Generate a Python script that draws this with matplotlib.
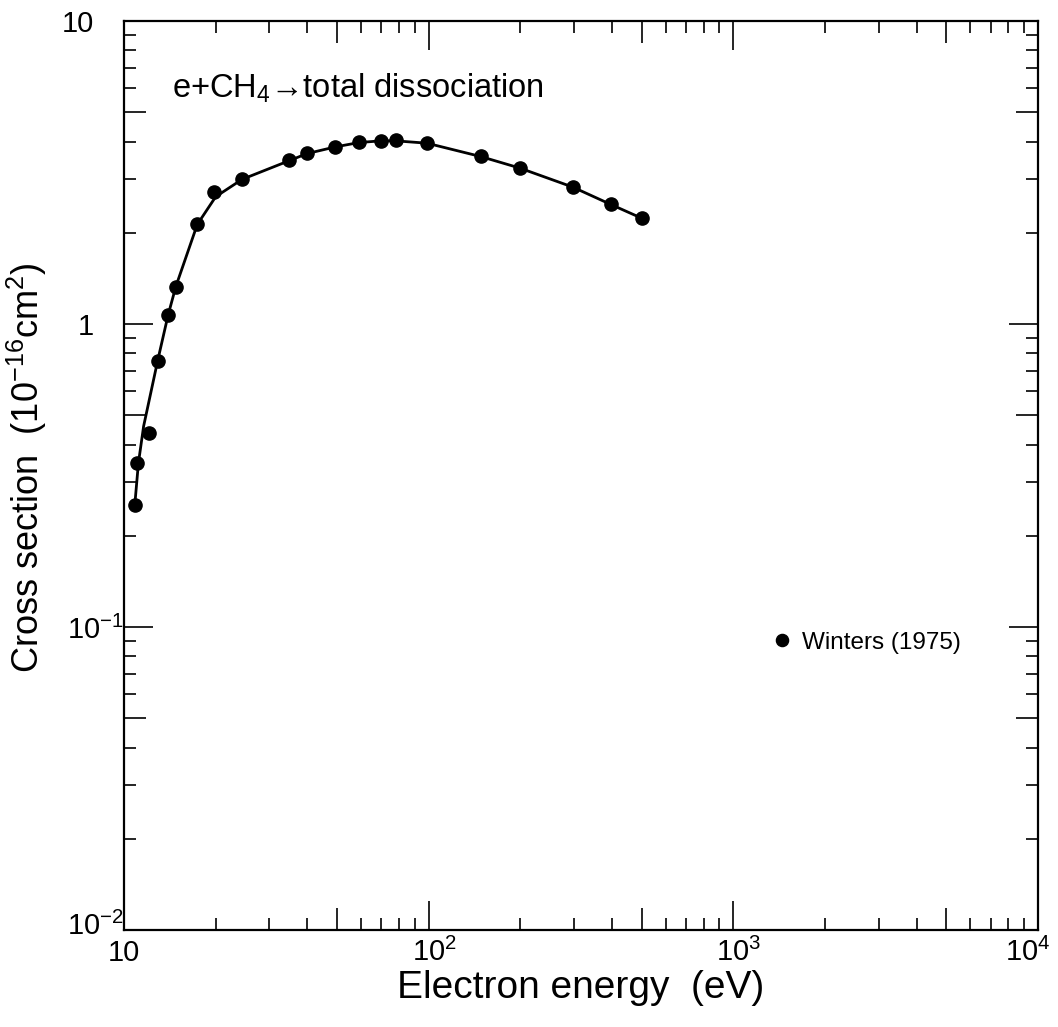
import matplotlib
matplotlib.use("Agg")
import matplotlib.pyplot as plt
import numpy as np
from matplotlib.ticker import FixedLocator, NullFormatter

# Winters (1975), e + CH4 -> total dissociation
energy = [10.85, 11.0, 12.1, 12.9, 13.95, 14.8, 17.4, 19.8, 24.4, 34.9, 39.9,
          49.4, 59.1, 69.6, 78.1, 98.7, 148, 199, 297, 396, 502]
sigma = [0.253, 0.347, 0.438, 0.757, 1.068, 1.328, 2.13, 2.73, 3.00, 3.48, 3.67,
         3.84, 3.99, 4.03, 4.04, 3.95, 3.57, 3.27, 2.83, 2.48, 2.23]

# recommended curve
curve_e = [10.85, 11.15, 11.6, 12.9, 13.95, 14.8, 17.4, 20.0, 24.4, 34.9, 39.9,
           49.4, 59.1, 69.6, 78.1, 98.7, 148, 199, 297, 396, 502]
curve_s = [0.253, 0.347, 0.46, 0.757, 1.068, 1.33, 2.13, 2.63, 3.00, 3.46, 3.65,
           3.84, 3.97, 4.02, 4.02, 3.95, 3.57, 3.27, 2.83, 2.48, 2.23]

xticks = [10, 1e2, 1e3, 1e4]
xticklabels = ["10", "10$^2$", "10$^3$", "10$^4$"]
yticks = [1e-2, 1e-1, 1, 10]
yticklabels = ["10$^{-2}$", "10$^{-1}$", "1", "10"]

plt.rcParams['font.family'] = ['Liberation Sans', 'DejaVu Sans']
plt.rcParams['mathtext.fontset'] = 'custom'
plt.rcParams['mathtext.rm'] = 'Liberation Sans'
plt.rcParams['mathtext.it'] = 'Liberation Sans'

tickfont = ['Liberation Sans Narrow', 'Liberation Sans']

fig = plt.figure(figsize=(10.58, 10.27), dpi=100)
ax = fig.add_axes([0.1172, 0.0945, 0.9811 - 0.1172, 0.9796 - 0.0945])

ax.plot(curve_e, curve_s, color='black', lw=2.0, solid_capstyle='round', zorder=2)
ax.plot(energy, sigma, 'o', color='black', ms=9.5, label='Winters (1975)', zorder=3)

ax.set_xscale('log')
ax.set_yscale('log')
ax.set_xlim(10, 1e4)
ax.set_ylim(1e-2, 10)

minor = [m * 10.0 ** d for d in range(-2, 4) for m in range(2, 10)]
ax.xaxis.set_major_locator(FixedLocator(xticks))
ax.yaxis.set_major_locator(FixedLocator(yticks))
ax.xaxis.set_minor_locator(FixedLocator([v for v in minor if 10 < v < 1e4]))
ax.yaxis.set_minor_locator(FixedLocator([v for v in minor if 1e-2 < v < 10]))
ax.xaxis.set_minor_formatter(NullFormatter())
ax.yaxis.set_minor_formatter(NullFormatter())
ax.set_xticklabels([])
ax.set_yticklabels([])

ax.tick_params(which='both', direction='in', top=True, right=True, width=1.2)
ax.tick_params(which='major', length=21)
ax.tick_params(which='minor', length=8.5)

# 5x ticks a bit longer
for axis in (ax.xaxis, ax.yaxis):
    locs = axis.get_minorticklocs()
    for t, loc in zip(axis.get_minor_ticks(len(locs)), locs):
        lead = loc / 10.0 ** np.floor(np.log10(loc) + 1e-9)
        if abs(lead - 5) < 1e-6:
            t.tick1line.set_markersize(16)
            t.tick2line.set_markersize(16)

# tick labels, placed like the original (mantissa lined up, exponent sticking out)
for v, lab in zip(xticks, xticklabels):
    ha, dx = 'center', 0
    if '$' in lab:
        dx = 4
    if v == xticks[-1]:
        ha, dx = 'right', 9
    ax.annotate(lab, xy=(v, -0.034), xycoords=ax.get_xaxis_transform(),
                xytext=(dx, 0), textcoords='offset points',
                ha=ha, va='baseline', fontsize=21, family=tickfont)
for v, lab in zip(yticks, yticklabels):
    dy = 5 if v == yticks[0] else 0
    if '$' in lab:
        ax.annotate(lab, xy=(-0.0624, v), xycoords=ax.get_yaxis_transform(),
                    xytext=(0, dy), textcoords='offset points',
                    ha='left', va='center_baseline', fontsize=21, family=tickfont)
    else:
        ax.annotate(lab, xy=(-0.0328, v), xycoords=ax.get_yaxis_transform(),
                    xytext=(0, dy), textcoords='offset points',
                    ha='right', va='center_baseline', fontsize=21, family=tickfont)

for s in ax.spines.values():
    s.set_linewidth(1.6)

ax.set_xlabel('Electron energy  (eV)', fontsize=28)
ax.xaxis.set_label_coords(0.5, -0.044)
ax.set_ylabel('Cross section  (10$^{-16}$cm$^2$)', fontsize=26)
ax.yaxis.set_label_coords(-0.082, 0.509)

ax.text(0.0525, 0.926, 'e+CH$_4$\u2192total dissociation', transform=ax.transAxes,
        fontsize=23.5, va='center', ha='left')

ax.legend(loc='center left', bbox_to_anchor=(0.713, 0.3157), frameon=False,
          fontsize=17.5, handlelength=0.5, handletextpad=0.6, markerscale=0.92,
          borderpad=0, borderaxespad=0)

fig.savefig('out.png', dpi=100)
